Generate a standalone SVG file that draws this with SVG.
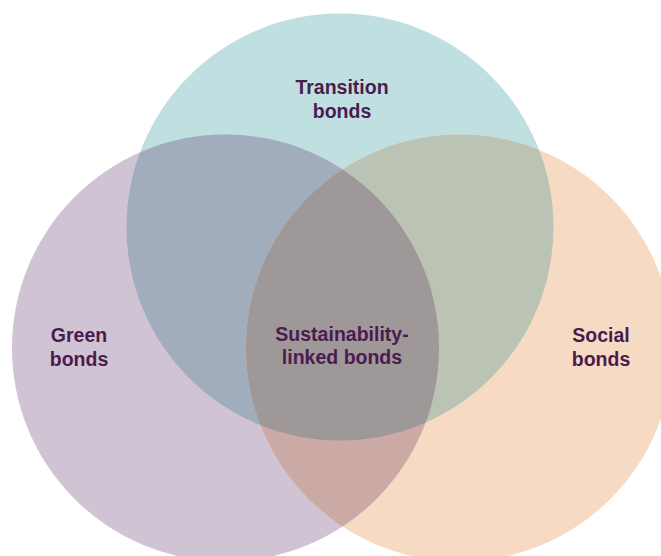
<svg xmlns="http://www.w3.org/2000/svg" width="661" height="556" viewBox="0 0 661 556">
<defs>
<style>
.lbl{font-family:"Liberation Sans",Arial,sans-serif;font-weight:bold;font-size:19.5px;fill:#4b1b50;text-anchor:middle}
</style>
<clipPath id="cA"><circle cx="340" cy="227" r="213.5"/></clipPath>
<clipPath id="cB"><circle cx="225.5" cy="348" r="213.5"/></clipPath>
</defs>
<rect width="661" height="556" fill="#ffffff"/>
<g id="transition">
<circle cx="340" cy="227" r="213.5" fill="#bfdfe1"/>
</g>
<g id="green">
<circle cx="225.5" cy="348" r="213.5" fill="#d0c4d4"/>
</g>
<g id="social">
<circle cx="459.5" cy="348" r="213.5" fill="#f7dac3"/>
</g>
<g id="overlaps">
<circle cx="225.5" cy="348" r="213.5" fill="#a1adbd" clip-path="url(#cA)"/>
<circle cx="459.5" cy="348" r="213.5" fill="#bbc4b4" clip-path="url(#cA)"/>
<circle cx="459.5" cy="348" r="213.5" fill="#cba9a5" clip-path="url(#cB)"/>
<g clip-path="url(#cA)">
<circle cx="459.5" cy="348" r="213.5" fill="#9f9899" clip-path="url(#cB)"/>
</g>
</g>
<g id="labels">
<text class="lbl" x="342" y="94">Transition</text>
<text class="lbl" x="342" y="118">bonds</text>
<text class="lbl" x="79" y="342">Green</text>
<text class="lbl" x="79" y="366">bonds</text>
<text class="lbl" x="342" y="341">Sustainability-</text>
<text class="lbl" x="342" y="364">linked bonds</text>
<text class="lbl" x="601" y="342">Social</text>
<text class="lbl" x="601" y="366">bonds</text>
</g>
</svg>
